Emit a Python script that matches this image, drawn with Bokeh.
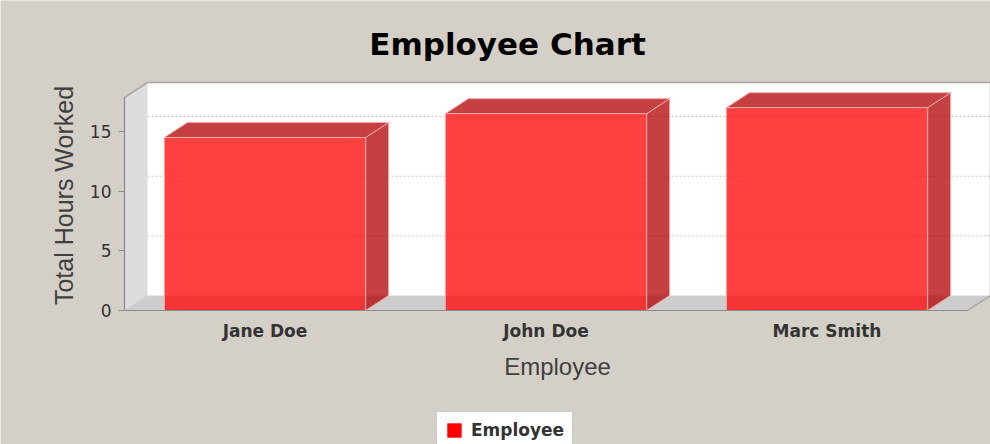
import math
from bokeh.plotting import figure
from bokeh.models import Range1d, FixedTicker, Legend, LegendItem
from bokeh.core.properties import value
from bokeh.embed import file_html
from bokeh.resources import INLINE

# ---- data ----
categories = ["Jane Doe", "John Doe", "Marc Smith"]
hours = [14.5, 16.5, 17.0]
y_ticks = [0, 5, 10, 15]
series_name = "Employee"
chart_title = "Employee Chart"
x_label = "Employee"
y_label = "Total Hours Worked"

# ---- layout (pixels) / styling ----
W, H = 990, 444
BG = "#D4D0C8"
PX_PER_X = 281.0          # pixels per category step
PX_PER_Y = 11.93          # pixels per hour
ORIGIN_X_PX = 264.5       # pixel x of first category centre
ORIGIN_Y_PX = 310.0       # pixel y of value 0
FRONT_TOP_PX = 97.0       # pixel y of top of front plane
OFF_X_PX, OFF_Y_PX = 23, 15
HALF_W = 0.358


def px2x(px):
    return (px - ORIGIN_X_PX) / PX_PER_X


def px2y(py):
    return (ORIGIN_Y_PX - py) / PX_PER_Y


n = len(categories)
xs = list(range(n))
x0 = -0.5
xr = n - 0.5
DX = OFF_X_PX / PX_PER_X
DY = OFF_Y_PX / PX_PER_Y
ytop = px2y(FRONT_TOP_PX)
y_back = ytop + DY

p = figure(width=W, height=H,
           x_range=Range1d(px2x(0), px2x(W)), y_range=Range1d(px2y(H), px2y(0)),
           output_backend="svg", toolbar_location=None,
           min_border=0, min_border_left=0, min_border_right=0,
           min_border_top=0, min_border_bottom=0,
           background_fill_color=BG, border_fill_color=BG,
           outline_line_color=None)
p.grid.visible = False

# walls
p.patch(x=[x0, x0, x0 + DX, x0 + DX], y=[0, ytop, y_back, DY],
        fill_color="#DDDDDD", line_color=None)
p.patch(x=[x0, x0 + DX, xr + DX, xr], y=[0, DY, DY, 0],
        fill_color="#CDCDCD", line_color=None)
p.quad(left=[x0 + DX], right=[xr + DX], bottom=[DY], top=[y_back],
       fill_color="white", line_color=None)

# gridlines on back wall
gt = [t for t in y_ticks if t > 0]
p.segment(x0=[x0 + DX] * len(gt), y0=[t + DY for t in gt],
          x1=[xr + DX] * len(gt), y1=[t + DY for t in gt],
          line_color="#C4C4C4", line_dash="2 2", line_width=1)

# outline
p.line(x=[x0, x0, x0 + DX, xr + DX, xr + DX, xr],
       y=[0, ytop, y_back, y_back, DY, 0],
       line_color="#A8A8A8", line_width=1.5)

# bars
edge = "#F6A8A8"
p.patches(xs=[[x + HALF_W, x + HALF_W + DX, x + HALF_W + DX, x + HALF_W] for x in xs],
          ys=[[0, DY, v + DY, v] for v in hours],
          fill_color="#B20000", fill_alpha=0.75, line_color=edge, line_width=1)
p.patches(xs=[[x - HALF_W, x - HALF_W + DX, x + HALF_W + DX, x + HALF_W] for x in xs],
          ys=[[v, v + DY, v + DY, v] for v in hours],
          fill_color="#B20000", fill_alpha=0.75, line_color=edge, line_width=1)
p.quad(left=[x - HALF_W for x in xs], right=[x + HALF_W for x in xs],
       bottom=[0] * n, top=hours,
       fill_color="#FF0000", fill_alpha=0.75, line_color=edge, line_width=1)

# axes (drawn at the front plane)
xa = p.xaxis[0]
xa.fixed_location = 0
xa.ticker = FixedTicker(ticks=xs)
xa.major_label_overrides = {i: c for i, c in enumerate(categories)}
xa.bounds = (x0, xr)
xa.axis_line_color = "#8C8C8C"
xa.major_tick_line_color = None
xa.minor_tick_line_color = None
xa.major_label_standoff = 4
xa.major_label_text_font = "DejaVu Sans"
xa.major_label_text_font_style = "bold"
xa.major_label_text_font_size = "17px"
xa.major_label_text_color = "#333333"

ya = p.yaxis[0]
ya.fixed_location = x0
ya.ticker = FixedTicker(ticks=y_ticks)
ya.bounds = (0, ytop)
ya.axis_line_color = "#8C8C8C"
ya.major_tick_line_color = "#8C8C8C"
ya.major_tick_out = 6
ya.major_tick_in = 0
ya.minor_tick_line_color = None
ya.major_label_standoff = 7
ya.major_label_text_font = "DejaVu Sans"
ya.major_label_text_font_size = "17px"
ya.major_label_text_color = "#333333"

# texts: title and axis titles
p.text(x=[px2x(507)], y=[px2y(43)], text=[chart_title],
       text_align="center", text_baseline="alphabetic",
       text_font=value("DejaVu Sans"), text_font_style="bold",
       text_font_size="31px", text_color="black")
p.text(x=[px2x(557)], y=[px2y(366)], text=[x_label],
       text_align="center", text_baseline="alphabetic",
       text_font=value("Liberation Sans"), text_font_size="24px",
       text_color="#404040")
p.text(x=[px2x(63)], y=[px2y(195)], text=[y_label], angle=math.pi / 2,
       text_align="center", text_baseline="middle",
       text_font=value("Liberation Sans"), text_font_size="25px",
       text_color="#404040")

# legend
proxy = p.quad(left=xs, right=xs, bottom=[0] * n, top=[0] * n,
               fill_color="#FF0000", line_color=None)
legend = Legend(items=[LegendItem(label=series_name, renderers=[proxy])],
                location=(436, -5), orientation="vertical",
                background_fill_color="white", background_fill_alpha=1,
                border_line_color="#9A9A9A", border_line_width=1,
                padding=8, margin=0, spacing=0,
                glyph_width=18, glyph_height=18, label_standoff=8,
                label_height=18,
                label_text_font="DejaVu Sans", label_text_font_style="bold",
                label_text_font_size="17px", label_text_color="#333333")
p.add_layout(legend, "center")

open("out.html", "w").write(file_html(p, INLINE))
